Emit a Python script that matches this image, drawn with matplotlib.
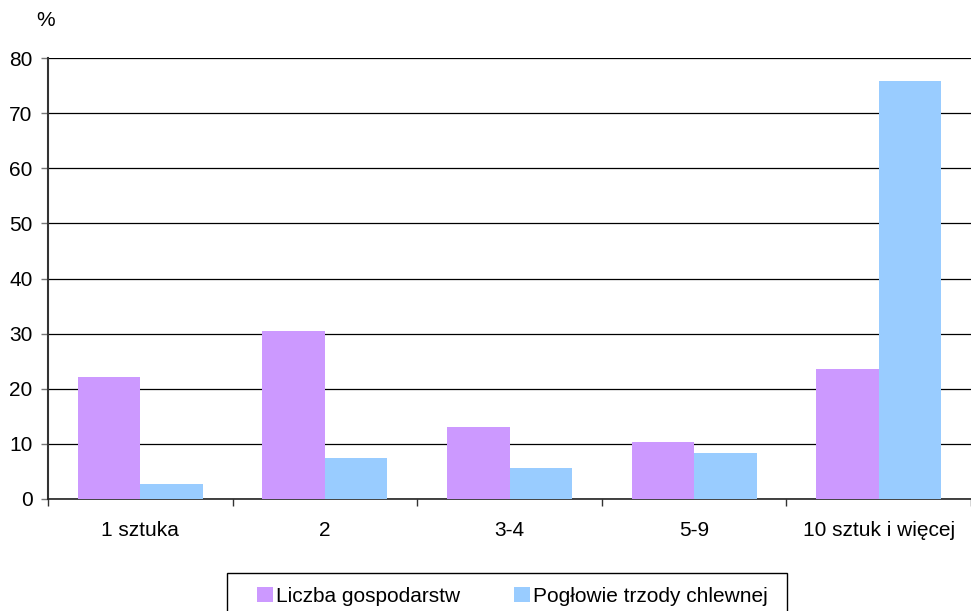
import matplotlib.pyplot as plt
import numpy as np
from matplotlib.patches import Patch, Rectangle

plt.rcParams['font.family'] = ['Liberation Sans', 'DejaVu Sans']

# data (%)
categories = ['1 sztuka', '2', '3-4', '5-9', '10 sztuk i więcej']
liczba_gosp = [22.2, 30.5, 13.1, 10.3, 23.6]
poglowie = [2.7, 7.4, 5.6, 8.4, 75.8]
series_names = ['Liczba gospodarstw', 'Pogłowie trzody chlewnej']
colors = ['#CC99FF', '#99CCFF']

fig = plt.figure(figsize=(9.71, 6.11), dpi=100)
ax = fig.add_axes([48 / 971, 1 - 499 / 611, 1 - 48 / 971, 441 / 611])

x = np.arange(len(categories))
w = 0.339
ax.bar(x - w / 2, liczba_gosp, w, color=colors[0], zorder=3)
ax.bar(x + w / 2, poglowie, w, color=colors[1], zorder=3)

ax.set_ylim(0, 80)
ax.set_yticks(range(0, 81, 10))
# one category is 186 px wide; the chart is cut off at the right edge
ax.set_xlim(-0.5, (971 - 48) / 186 - 0.5)
ax.yaxis.grid(True, color='black', linewidth=0.9, zorder=0)

# category boundaries as ticks, labels centered
ax.set_xticks(np.arange(len(categories) + 1) - 0.5)
ax.set_xticklabels([])
ax.set_xticks(x, minor=True)
ax.set_xticklabels(categories, minor=True)
ax.tick_params(axis='x', which='minor', length=0, pad=16, labelsize=15)
ax.tick_params(axis='x', which='major', length=5, width=1, color='#333333')
ax.tick_params(axis='y', length=5, width=1, color='#777777', labelsize=15, pad=6)

for s in ['top', 'right']:
    ax.spines[s].set_visible(False)
ax.spines['left'].set_color('#333333')
ax.spines['left'].set_linewidth(1.5)
ax.spines['bottom'].set_color('#222222')
ax.spines['bottom'].set_linewidth(1.2)

fig.text(36 / 971, 1 - 21 / 611, '%', fontsize=15, ha='left', va='center')

# legend frame (cut off by the bottom edge, as in the original)
fig.patches.append(Rectangle((227 / 971, -0.02), (787 - 227) / 971,
                             (1 - 573 / 611) + 0.02, transform=fig.transFigure,
                             facecolor='white', edgecolor='black', linewidth=1.0))
handles = [Patch(facecolor=c, edgecolor='none') for c in colors]
fig.legend(handles, series_names, loc='center left',
           bbox_to_anchor=(257 / 971, 1 - 596 / 611), ncol=2,
           fontsize=15, frameon=False,
           handlelength=0.75, handleheight=0.75, handletextpad=0.15,
           columnspacing=2.6, borderpad=0, borderaxespad=0)

fig.savefig('out.png', dpi=100)
